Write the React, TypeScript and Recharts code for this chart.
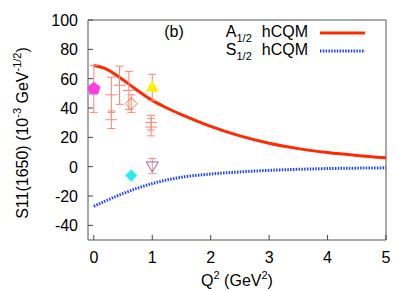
import { ComposedChart, Line, Scatter, XAxis, YAxis, ErrorBar, ReferenceArea } from 'recharts'

// hCQM curves
const a12X = [0, 0.2, 0.4, 0.6, 0.8, 1, 1.25, 1.5, 2, 2.5, 3, 3.5, 4, 4.5, 5]
const a12Y = [69, 66.8, 62, 56.3, 50.5, 45.2, 40, 35.5, 27.5, 21, 16, 12.3, 9.6, 7.6, 6]
const s12X = [0, 0.25, 0.5, 0.75, 1, 1.5, 2, 2.5, 3, 3.5, 4, 4.5, 5]
const s12Y = [-27, -22.5, -18.3, -14.6, -11.5, -7.2, -5, -3.6, -2.5, -1.8, -1.3, -1, -0.8]

// experimental points
const pentX = [0]
const pentY = [53]
const pentErr = [16]
const crossX = [0.3, 0.3, 0.44, 0.6, 0.98, 0.98]
const crossY = [49, 32, 55.5, 52, 30, 27]
const crossErr = [12, 6, 13, 13, 5, 6]
const openDiaX = [0.64]
const openDiaY = [43]
const openDiaErr = [6]
const triX = [1]
const triY = [54]
const triErr = [9]
const downTriX = [1]
const downTriY = [0.5]
const downTriErr = [5]
const cyanX = [0.64]
const cyanY = [-6]

const xTicks = [0, 1, 2, 3, 4, 5]
const yTicks = [-40, -20, 0, 20, 40, 60, 80, 100]

const pts = (xs: number[], ys: number[], errs?: number[]) =>
  xs.map((x, i) => ({ x, y: ys[i], err: errs ? errs[i] : 0 }))

const FONT = '"Liberation Sans", Arial, sans-serif'
const ERR = '#ff8474'

const Pentagon = (p: any) => {
  const r = 7
  const d = [0, 1, 2, 3, 4]
    .map((k) => {
      const a = -Math.PI / 2 + (k * 2 * Math.PI) / 5
      return `${p.cx + r * Math.cos(a)},${p.cy + r * Math.sin(a)}`
    })
    .join(' ')
  return <polygon points={d} fill="#ff3ee0" />
}
const Cross = (p: any) => (
  <g stroke={ERR} strokeWidth={1}>
    <line x1={p.cx - 6} x2={p.cx + 6} y1={p.cy} y2={p.cy} />
  </g>
)
const OpenDiamond = (p: any) => (
  <polygon
    points={`${p.cx},${p.cy - 6} ${p.cx + 6},${p.cy} ${p.cx},${p.cy + 6} ${p.cx - 6},${p.cy}`}
    fill="none"
    stroke="#ff7a3a"
    strokeWidth={1}
  />
)
const CyanDiamond = (p: any) => (
  <polygon
    points={`${p.cx},${p.cy - 6} ${p.cx + 6},${p.cy} ${p.cx},${p.cy + 6} ${p.cx - 6},${p.cy}`}
    fill="#22f0f0"
  />
)
const Triangle = (p: any) => (
  <polygon points={`${p.cx},${p.cy - 7} ${p.cx + 6.5},${p.cy + 4} ${p.cx - 6.5},${p.cy + 4}`} fill="#ffee00" />
)
const DownTriangle = (p: any) => (
  <polygon
    points={`${p.cx},${p.cy + 6} ${p.cx + 6},${p.cy - 4} ${p.cx - 6},${p.cy - 4}`}
    fill="none"
    stroke="#7a66dd"
    strokeWidth={1}
  />
)

const YTick = (p: any) => (
  <g>
    <line x1={p.x + 10} x2={p.x + 15} y1={p.y} y2={p.y} stroke="#444" />
    <text x={p.x} y={p.y + 6} textAnchor="end" fontSize={16} fontFamily={FONT} fill="#000">
      {p.payload.value}
    </text>
  </g>
)
const XTick = (p: any) => (
  <g>
    <line x1={p.x} x2={p.x} y1={p.y - 8} y2={p.y - 13} stroke="#444" />
    <text x={p.x} y={p.y + 15} textAnchor="middle" fontSize={16} fontFamily={FONT} fill="#000">
      {p.payload.value}
    </text>
  </g>
)

export default function App() {
  const aData = pts(a12X, a12Y)
  const sData = pts(s12X, s12Y)
  return (
    <div style={{ position: 'relative', width: 415, height: 291 }}>
      <style>{`body{margin:0}`}</style>
      <ComposedChart width={415} height={291} margin={{ top: 20, right: 29, bottom: 0, left: 0 }}>
        <XAxis
          type="number"
          dataKey="x"
          domain={[-0.1, 5]}
          ticks={xTicks}
          allowDataOverflow
          height={51}
          tickSize={0}
          tickMargin={8}
          tickLine={false}
          axisLine={false}
          tick={<XTick />}
        />
        <YAxis
          type="number"
          dataKey="y"
          domain={[-50, 100]}
          ticks={yTicks}
          allowDataOverflow
          width={88}
          tickSize={0}
          tickMargin={10}
          tickLine={false}
          axisLine={false}
          tick={<YTick />}
        />
        <ReferenceArea x1={-0.1} x2={5} y1={-50} y2={100} fill="none" stroke="#555" strokeWidth={1} />
        <Line data={aData} dataKey="y" type="monotone" dot={false} stroke="#ff2a00" strokeWidth={3} isAnimationActive={false} />
        <Line
          data={sData}
          dataKey="y"
          type="monotone"
          dot={false}
          stroke="#2244ff"
          strokeWidth={3}
          strokeDasharray="1.5 1.3"
          isAnimationActive={false}
        />
        <Scatter data={pts(crossX, crossY, crossErr)} dataKey="y" shape={<Cross />} isAnimationActive={false}>
          <ErrorBar dataKey="err" direction="y" width={4} stroke={ERR} strokeWidth={1} />
        </Scatter>
        <Scatter data={pts(pentX, pentY, pentErr)} dataKey="y" shape={<Pentagon />} isAnimationActive={false}>
          <ErrorBar dataKey="err" direction="y" width={4} stroke={ERR} strokeWidth={1} />
        </Scatter>
        <Scatter data={pts(openDiaX, openDiaY, openDiaErr)} dataKey="y" shape={<OpenDiamond />} isAnimationActive={false}>
          <ErrorBar dataKey="err" direction="y" width={4} stroke={ERR} strokeWidth={1} />
        </Scatter>
        <Scatter data={pts(triX, triY, triErr)} dataKey="y" shape={<Triangle />} isAnimationActive={false}>
          <ErrorBar dataKey="err" direction="y" width={4} stroke={ERR} strokeWidth={1} />
        </Scatter>
        <Scatter data={pts(downTriX, downTriY, downTriErr)} dataKey="y" shape={<DownTriangle />} isAnimationActive={false}>
          <ErrorBar dataKey="err" direction="y" width={4} stroke={ERR} strokeWidth={1} />
        </Scatter>
        <Scatter data={pts(cyanX, cyanY)} dataKey="y" shape={<CyanDiamond />} isAnimationActive={false} />
      </ComposedChart>
      <svg
        width={415}
        height={291}
        style={{ position: 'absolute', left: 0, top: 0, pointerEvents: 'none' }}
        fontFamily={FONT}
        fontSize={16}
      >
        <text x={174} y={37} textAnchor="middle">(b)</text>
        <text x={308} y={37} textAnchor="end">
          A<tspan fontSize={11} dy={5}>1/2</tspan>
          <tspan dy={-5} dx={10}>hCQM</tspan>
        </text>
        <line x1={320} x2={365} y1={33} y2={33} stroke="#ff2a00" strokeWidth={3} />
        <text x={308} y={55} textAnchor="end">
          S<tspan fontSize={11} dy={5}>1/2</tspan>
          <tspan dy={-5} dx={10}>hCQM</tspan>
        </text>
        <line x1={320} x2={365} y1={51} y2={51} stroke="#2244ff" strokeWidth={3} strokeDasharray="1.5 1.3" />
        <text x={237} y={286} textAnchor="middle">
          Q<tspan fontSize={11} dy={-7}>2</tspan>
          <tspan dy={7}> (GeV</tspan>
          <tspan fontSize={11} dy={-7}>2</tspan>
          <tspan dy={7}>)</tspan>
        </text>
        <text transform="translate(28,133) rotate(-90)" textAnchor="middle">
          S11(1650) (10<tspan fontSize={11} dy={-7}>-3</tspan>
          <tspan dy={7}> GeV</tspan>
          <tspan fontSize={11} dy={-7}>-1/2</tspan>
          <tspan dy={7}>)</tspan>
        </text>
      </svg>
    </div>
  )
}
